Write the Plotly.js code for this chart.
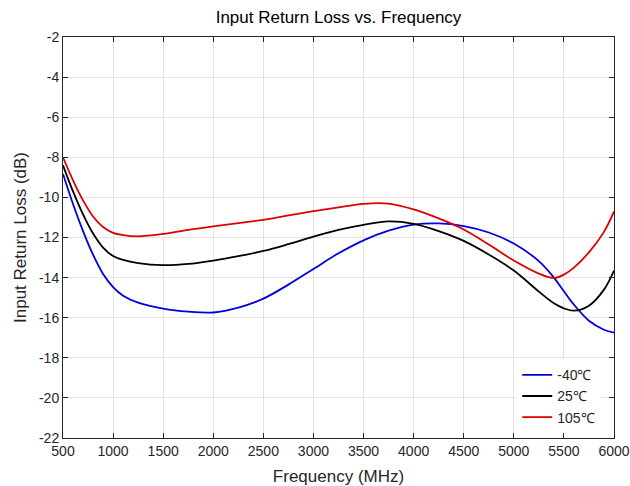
<!DOCTYPE html>
<html>
<head>
<meta charset="utf-8">
<script src="https://cdn.plot.ly/plotly-3.0.1.min.js"></script>
<style>html,body{margin:0;padding:0;background:#fff;}#chart{width:630px;height:486px;}</style>
</head>
<body>
<div id="chart"></div>
<script>
const freq = [500,600,700,800,900,1000,1100,1250,1500,1750,2000,2250,2500,2750,3000,3250,3500,3750,4000,4250,4500,4750,5000,5250,5400,5500,5600,5750,5900,6000];
const rlMinus40 = [-8.83,-10.33,-11.68,-12.86,-13.82,-14.47,-14.9,-15.25,-15.55,-15.7,-15.74,-15.5,-15.05,-14.35,-13.57,-12.79,-12.14,-11.66,-11.36,-11.3,-11.43,-11.75,-12.3,-13.18,-14.0,-14.68,-15.35,-16.15,-16.6,-16.75];
const rl25 = [-8.4,-9.7,-10.85,-11.8,-12.5,-12.92,-13.12,-13.28,-13.38,-13.32,-13.15,-12.93,-12.67,-12.33,-11.96,-11.62,-11.37,-11.2,-11.32,-11.68,-12.17,-12.85,-13.65,-14.7,-15.28,-15.53,-15.65,-15.4,-14.6,-13.65];
const rl105 = [-8.0,-9.15,-10.15,-10.95,-11.48,-11.77,-11.88,-11.94,-11.82,-11.62,-11.45,-11.28,-11.12,-10.9,-10.69,-10.5,-10.32,-10.31,-10.6,-11.05,-11.6,-12.35,-13.15,-13.8,-14.02,-13.85,-13.5,-12.74,-11.72,-10.7];
const seriesNames = ['-40\u2103','25\u2103','105\u2103'];
const xTicks = [500,1000,1500,2000,2500,3000,3500,4000,4500,5000,5500,6000];
const yTicks = [-22,-20,-18,-16,-14,-12,-10,-8,-6,-4,-2];

const colors = ['#0000dd','#000000','#dd0000'];
const ys = [rlMinus40, rl25, rl105];
const traces = ys.map((y,i)=>({
  x: freq, y: y, type:'scatter', mode:'lines', name: seriesNames[i],
  line:{color:colors[i], width:1.8, shape:'spline', smoothing:1}
}));

const axisCommon = {
  showline:true, linecolor:'#262626', linewidth:1, mirror:'ticks',
  ticks:'inside', ticklen:5, tickcolor:'#262626', tickwidth:1,
  showgrid:true, gridcolor:'#e3e3e3', gridwidth:1, zeroline:false,
  tickfont:{family:'Liberation Sans, Arial, sans-serif', size:14, color:'#262626'}
};

const layout = {
  width:630, height:486,
  margin:{l:63, r:16, t:37, b:48},
  paper_bgcolor:'#ffffff', plot_bgcolor:'#ffffff',
  font:{family:'Liberation Sans, Arial, sans-serif', color:'#262626'},
  title:{text:'Input Return Loss vs. Frequency', font:{size:17, color:'#000000'}, x:0.5+ (63-16)/2/630, xanchor:'center', y:1-17/486, yref:'container', yanchor:'middle'},
  xaxis: Object.assign({}, axisCommon, {
    range:[500,6000], tickvals:xTicks, ticktext:xTicks.map(String), automargin:false,
    title:{text:'Frequency (MHz)', font:{size:17, color:'#262626'}, standoff:16}
  }),
  yaxis: Object.assign({}, axisCommon, {
    range:[-22,-2], tickvals:yTicks, ticktext:yTicks.map(String), automargin:false,
    title:{text:'Input Return Loss (dB)', font:{size:17, color:'#262626'}, standoff:8}
  }),
  showlegend:true,
  legend:{x:0.975, xanchor:'right', y:0.012, yanchor:'bottom', bgcolor:'#ffffff', borderwidth:0,
    font:{family:'Liberation Sans, Arial, sans-serif', size:14, color:'#262626'}, tracegroupgap:0}
};

Plotly.newPlot('chart', traces, layout, {displayModeBar:false, staticPlot:true});
</script>
</body>
</html>
